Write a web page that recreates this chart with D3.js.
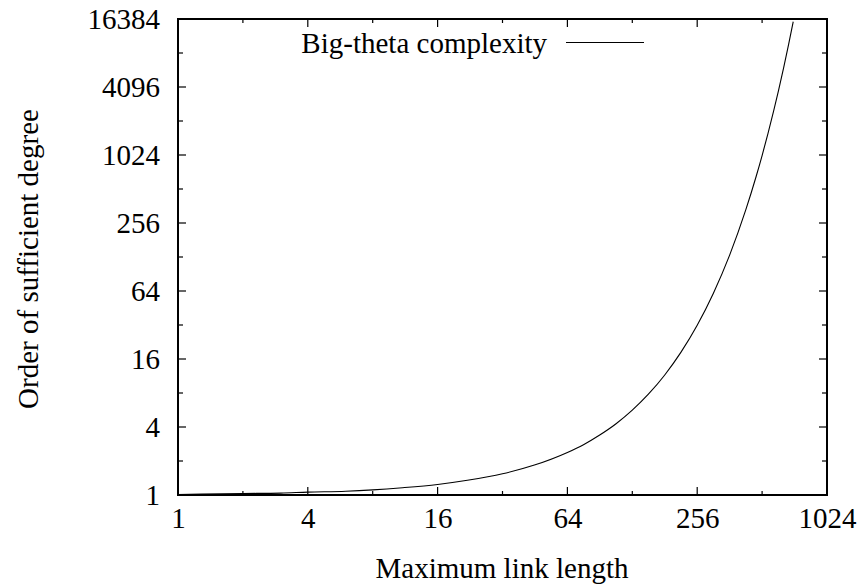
<!DOCTYPE html>
<html>
<head>
<meta charset="utf-8">
<script src="https://cdn.jsdelivr.net/npm/d3@7"></script>
<style>
  body { margin: 0; background: #fff; }
</style>
</head>
<body>
<div id="chart"></div>
<script>
// values (log2 scales on both axes)
const linkLength = [1, 2, 3, 4, 6, 8, 11, 16, 22, 32, 45, 64, 76, 90, 108, 128, 152, 181, 215, 256, 304, 362, 430, 480, 512, 545, 580, 610, 645, 680, 714];
const degreeOrder = [1.01, 1.03, 1.04, 1.06, 1.08, 1.11, 1.16, 1.24, 1.35, 1.54, 1.84, 2.38, 2.79, 3.38, 4.3, 5.64, 7.8, 11.55, 18.3, 31.8, 60.9, 133, 334, 657, 1012, 1582, 2540, 3810, 6110, 9800, 15500];

const xTicks = [1, 2, 4, 8, 16, 32, 64, 128, 256, 512, 1024];
const xTickLabels = [1, 4, 16, 64, 256, 1024];
const yTicks = [1, 2, 4, 8, 16, 32, 64, 128, 256, 512, 1024, 2048, 4096, 8192, 16384];
const yTickLabels = [1, 4, 16, 64, 256, 1024, 4096, 16384];

const seriesName = "Big-theta complexity";
const xTitle = "Maximum link length";
const yTitle = "Order of sufficient degree";

const W = 864, H = 588;
const margin = { top: 19, right: 37, bottom: 93, left: 178 };
const iw = W - margin.left - margin.right;
const ih = H - margin.top - margin.bottom;
const fs = 29;
const font = "Liberation Serif";

const svg = d3.select("#chart").append("svg")
    .attr("width", W).attr("height", H);

const g = svg.append("g").attr("transform", `translate(${margin.left},${margin.top})`);

const x = d3.scaleLog().base(2).domain([1, 1024]).range([0, iw]);
const y = d3.scaleLog().base(2).domain([1, 16384]).range([ih, 0]);

const isMajorX = (d) => xTickLabels.includes(d);
const isMajorY = (d) => yTickLabels.includes(d);

// tick marks on all four sides, pointing inward
function ticks(sel, vals, scale, orient, len) {
    sel.selectAll(null).data(vals).enter().append("line")
        .attr("stroke", "#000").attr("stroke-width", 1.2)
        .each(function (d) {
            const l = d3.select(this);
            const p = scale(d);
            if (orient === "bottom") l.attr("x1", p).attr("x2", p).attr("y1", ih).attr("y2", ih - len(d));
            if (orient === "top") l.attr("x1", p).attr("x2", p).attr("y1", 0).attr("y2", len(d));
            if (orient === "left") l.attr("y1", p).attr("y2", p).attr("x1", 0).attr("x2", len(d));
            if (orient === "right") l.attr("y1", p).attr("y2", p).attr("x1", iw).attr("x2", iw - len(d));
        });
}
const tg = g.append("g");
ticks(tg, xTicks, x, "bottom", (d) => isMajorX(d) ? 8 : 4);
ticks(tg, xTicks, x, "top", (d) => isMajorX(d) ? 8 : 4);
ticks(tg, yTicks, y, "left", (d) => isMajorY(d) ? 8 : 5);
ticks(tg, yTicks, y, "right", (d) => isMajorY(d) ? 8 : 5);

// tick labels via d3 axes
const xAxis = d3.axisBottom(x).tickValues(xTickLabels).tickSize(0).tickPadding(12).tickFormat(d3.format("d"));
g.append("g").attr("transform", `translate(0,${ih})`).call(xAxis)
    .attr("font-family", font).attr("font-size", fs)
    .call((a) => a.select(".domain").remove())
    .selectAll("text").attr("fill", "#000");

const yAxis = d3.axisLeft(y).tickValues(yTickLabels).tickSize(0).tickPadding(18).tickFormat(d3.format("d"));
g.append("g").call(yAxis)
    .attr("font-family", font).attr("font-size", fs)
    .call((a) => a.select(".domain").remove())
    .selectAll("text").attr("fill", "#000");

// curve
g.append("clipPath").attr("id", "clip").append("rect").attr("width", iw).attr("height", ih);
const line = d3.line()
    .x((d, i) => x(linkLength[i]))
    .y((d) => y(d))
    .curve(d3.curveMonotoneX);
g.append("path")
    .attr("clip-path", "url(#clip)")
    .attr("d", line(degreeOrder))
    .attr("fill", "none").attr("stroke", "#000").attr("stroke-width", 1.1);

// frame
g.append("rect").attr("width", iw).attr("height", ih)
    .attr("fill", "none").attr("stroke", "#000").attr("stroke-width", 2);

// legend
svg.append("text").attr("x", 547).attr("y", 53).attr("text-anchor", "end")
    .attr("font-family", font).attr("font-size", fs).text(seriesName);
svg.append("line").attr("x1", 566).attr("x2", 644).attr("y1", 42.5).attr("y2", 42.5)
    .attr("stroke", "#000").attr("stroke-width", 1.1);

// axis titles
svg.append("text").attr("x", 502).attr("y", 578)
    .attr("text-anchor", "middle").attr("font-family", font).attr("font-size", fs).text(xTitle);
svg.append("text").attr("transform", "translate(38,259) rotate(-90)")
    .attr("text-anchor", "middle").attr("font-family", font).attr("font-size", fs).text(yTitle);
</script>
</body>
</html>
